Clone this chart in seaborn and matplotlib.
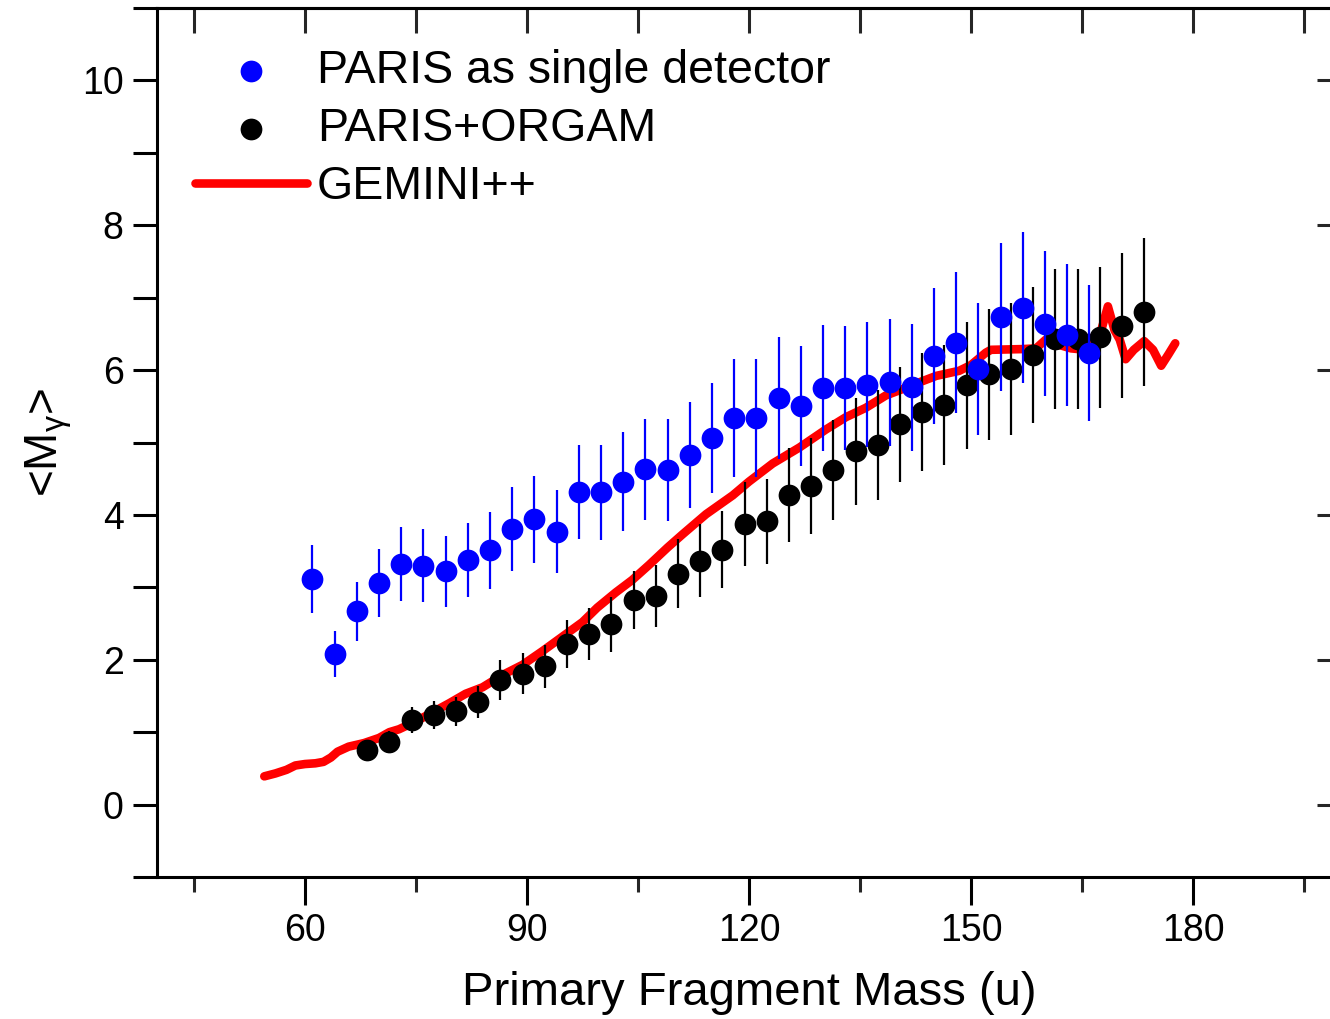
import numpy as np
import pandas as pd
import matplotlib
matplotlib.use("Agg")
import matplotlib.pyplot as plt
from matplotlib.ticker import MultipleLocator, NullLocator
import seaborn as sns

# ---------------- data ----------------
paris_mass = [61, 64, 67, 70, 73, 76, 79, 82, 85, 88, 91, 94, 97, 100, 103, 106, 109, 112,
              115, 118, 121, 124, 127, 130, 133, 136, 139, 142, 145, 148, 151, 154, 157, 160, 163, 166]
paris_mg = [3.12, 2.08, 2.67, 3.06, 3.32, 3.30, 3.22, 3.38, 3.51, 3.81, 3.94, 3.77, 4.32, 4.31,
            4.46, 4.63, 4.62, 4.83, 5.06, 5.34, 5.34, 5.61, 5.50, 5.75, 5.75, 5.80, 5.83, 5.76,
            6.19, 6.38, 6.02, 6.73, 6.86, 6.64, 6.49, 6.24]
paris_err = [0.47, 0.32, 0.41, 0.47, 0.51, 0.50, 0.49, 0.51, 0.53, 0.58, 0.60, 0.57, 0.65, 0.65,
             0.68, 0.70, 0.70, 0.73, 0.76, 0.81, 0.81, 0.84, 0.83, 0.87, 0.86, 0.86, 0.88, 0.88,
             0.94, 0.97, 0.91, 1.02, 1.04, 1.00, 0.98, 0.94]

orgam_mass = [68.4, 71.4, 74.4, 77.4, 80.4, 83.4, 86.4, 89.4, 92.4, 95.4, 98.4, 101.4, 104.4,
              107.4, 110.4, 113.4, 116.4, 119.4, 122.4, 125.4, 128.4, 131.4, 134.4, 137.4, 140.4,
              143.4, 146.4, 149.4, 152.4, 155.4, 158.4, 161.4, 164.4, 167.4, 170.4, 173.4]
orgam_mg = [0.76, 0.87, 1.17, 1.24, 1.29, 1.42, 1.72, 1.81, 1.91, 2.22, 2.35, 2.49, 2.82, 2.88,
            3.19, 3.37, 3.52, 3.87, 3.91, 4.28, 4.40, 4.62, 4.88, 4.97, 5.25, 5.42, 5.52, 5.79,
            5.94, 6.01, 6.21, 6.43, 6.43, 6.45, 6.61, 6.80]
orgam_err = [0.12, 0.14, 0.18, 0.19, 0.20, 0.22, 0.27, 0.28, 0.30, 0.33, 0.36, 0.38, 0.40, 0.43,
             0.48, 0.51, 0.53, 0.58, 0.59, 0.65, 0.66, 0.69, 0.74, 0.76, 0.79, 0.81, 0.83, 0.88,
             0.90, 0.91, 0.94, 0.97, 0.97, 0.97, 1.00, 1.02]

gemini_mass = [54.5, 56.0, 57.5, 58.7, 60.0, 61.4, 62.5, 63.5, 64.4, 65.9, 68.0, 70.0, 71.4, 72.7,
               75.0, 77.7, 79.5, 81.7, 84.0, 86.7, 89.4, 92.1, 94.8, 97.5, 99.5, 102.0, 104.2,
               106.5, 109.0, 111.0, 114.2, 117.8, 120.0, 123.2, 126.8, 130.4, 133.1, 135.8, 138.5,
               140.3, 143.0, 145.3, 148.4, 150.0, 152.0, 152.7, 157.0, 158.8, 160.1, 161.5, 163.5,
               165.5, 166.5, 167.6, 168.5, 169.4, 170.1, 170.9, 172.0, 173.4, 174.6, 175.7, 176.7,
               177.6]
gemini_mg = [0.39, 0.43, 0.48, 0.54, 0.56, 0.57, 0.59, 0.65, 0.73, 0.80, 0.85, 0.92, 1.00, 1.04,
             1.15, 1.30, 1.40, 1.53, 1.62, 1.79, 1.93, 2.12, 2.32, 2.52, 2.72, 2.93, 3.10,
             3.31, 3.55, 3.73, 4.01, 4.27, 4.46, 4.71, 4.93, 5.18, 5.35, 5.48, 5.65,
             5.72, 5.83, 5.92, 5.99, 6.07, 6.24, 6.28, 6.29, 6.30, 6.42, 6.36, 6.30,
             6.28, 6.45, 6.55, 6.88, 6.55, 6.42, 6.15, 6.28, 6.40, 6.28, 6.06, 6.22,
             6.37]

labels = ["PARIS as single detector", "PARIS+ORGAM", "GEMINI++"]
x_ticks = [60, 90, 120, 150, 180]
y_ticks = [0, 2, 4, 6, 8, 10]

# ---------------- style ----------------
sns.set_theme(style="white")
plt.rcParams["font.family"] = ["Liberation Sans", "DejaVu Sans"]
plt.rcParams["mathtext.fontset"] = "custom"
plt.rcParams["mathtext.rm"] = "Liberation Sans"
plt.rcParams["mathtext.it"] = "Liberation Sans"
plt.rcParams["mathtext.default"] = "regular"
plt.rcParams["text.color"] = "black"
plt.rcParams["axes.labelcolor"] = "black"

W, H = 1330, 1019
fig = plt.figure(figsize=(W / 100, H / 100), dpi=100)
ax_l, ax_r, ax_t, ax_b = 157, 1341, 8, 877
ax = fig.add_axes([ax_l / W, (H - ax_b) / H, (ax_r - ax_l) / W, (ax_b - ax_t) / H])

df_p = pd.DataFrame({"m": paris_mass, "g": paris_mg, "e": paris_err})
df_o = pd.DataFrame({"m": orgam_mass, "g": orgam_mg, "e": orgam_err})
df_g = pd.DataFrame({"m": gemini_mass, "g": gemini_mg})

# red line (bottom)
sns.lineplot(data=df_g, x="m", y="g", ax=ax, color="#FF0000", linewidth=6.2,
             sort=False, estimator=None, label=labels[2], solid_capstyle="round", zorder=2)

# black points
ax.errorbar(df_o["m"], df_o["g"], yerr=df_o["e"], fmt="none", ecolor="black",
            elinewidth=1.6, capsize=0, zorder=3)
sns.scatterplot(data=df_o, x="m", y="g", ax=ax, color="black", s=245, linewidth=0,
                label=labels[1], zorder=4)

# blue points
ax.errorbar(df_p["m"], df_p["g"], yerr=df_p["e"], fmt="none", ecolor="#0000FF",
            elinewidth=1.6, capsize=0, zorder=5)
sns.scatterplot(data=df_p, x="m", y="g", ax=ax, color="#0000FF", s=245, linewidth=0,
                label=labels[0], zorder=6)

ax.set_xlim(40, 200)
ax.set_ylim(-1, 11)

# spines
for side in ["left", "bottom", "top"]:
    ax.spines[side].set_visible(True)
    ax.spines[side].set_linewidth(2.2)
    ax.spines[side].set_color("black")
ax.spines["right"].set_visible(False)

ax.xaxis.set_major_locator(MultipleLocator(30))
ax.xaxis.set_minor_locator(MultipleLocator(15))
ax.yaxis.set_major_locator(MultipleLocator(2))
ax.yaxis.set_minor_locator(MultipleLocator(1))
ax.set_xticks(x_ticks)
ax.set_yticks(y_ticks)

ax.tick_params(axis="x", which="major", direction="out", length=20, width=2.2,
               bottom=True, top=False, pad=6, labelsize=27, colors="black")
ax.tick_params(axis="x", which="minor", direction="out", length=11, width=2.2,
               bottom=True, top=False)
ax.tick_params(axis="y", which="both", direction="out", length=17, width=2.2,
               left=True, right=False, pad=7, labelsize=27, colors="black")

# top axis with inward ticks
top = ax.secondary_xaxis("top")
top.xaxis.set_major_locator(MultipleLocator(15))
top.tick_params(axis="x", which="major", direction="in", length=18, width=2.2, labeltop=False)
top.xaxis.set_minor_locator(NullLocator())
top.spines["top"].set_linewidth(2.2)

# right axis with inward ticks (major only)
right = ax.secondary_yaxis("right")
right.set_yticks(y_ticks)
right.yaxis.set_minor_locator(NullLocator())
right.tick_params(axis="y", which="major", direction="in", length=17, width=2.2, labelright=False)

ax.set_xlabel("Primary Fragment Mass (u)", fontsize=34, labelpad=16, color="black")
ax.set_ylabel(r"<M$_{\gamma}$>", fontsize=33, labelpad=6, color="black")

# legend: order blue, black, red
handles, labs = ax.get_legend_handles_labels()
order = [labs.index(l) for l in labels]
leg = ax.legend([handles[i] for i in order], [labs[i] for i in order],
                loc="upper left", bbox_to_anchor=((195 - ax_l) / (ax_r - ax_l), 1 - (49 - ax_t) / (ax_b - ax_t)),
                frameon=False, fontsize=33.5, handlelength=2.4, handletextpad=0.22,
                labelspacing=0.30, borderpad=0, borderaxespad=0, scatterpoints=1)
for t in leg.get_texts():
    t.set_color("black")

fig.savefig("out.png", dpi=100)
